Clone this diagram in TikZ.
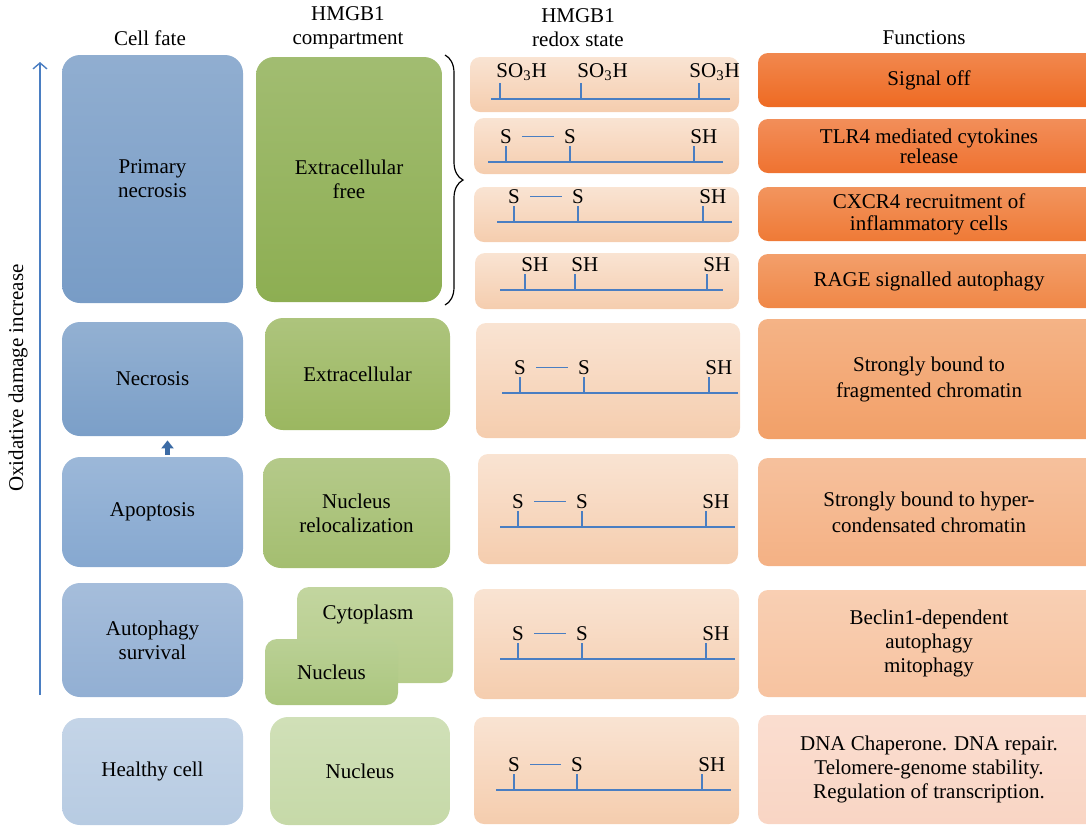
\documentclass[tikz,border=0pt]{standalone}
\usepackage{fontspec}
\setmainfont{Liberation Serif}
\usetikzlibrary{arrows.meta,decorations.pathreplacing,positioning}

\definecolor{chainblue}{HTML}{4A7EC2}
\definecolor{arrowblue}{HTML}{3C6BA5}
\definecolor{peach}{HTML}{F5CDAE}
\definecolor{fateA}{HTML}{789CC6}
\definecolor{fateB}{HTML}{7B9FC8}
\definecolor{fateC}{HTML}{86A8D0}
\definecolor{fateD}{HTML}{92AFD3}
\definecolor{fateE}{HTML}{B7CBE2}
\definecolor{compA}{HTML}{8DAE52}
\definecolor{compB}{HTML}{9BB760}
\definecolor{compC}{HTML}{A4BE70}
\definecolor{compD}{HTML}{B5CC8A}
\definecolor{compE}{HTML}{ABC67E}
\definecolor{compF}{HTML}{C6D9A8}
\definecolor{funcA}{HTML}{EE6A22}
\definecolor{funcB}{HTML}{EF7230}
\definecolor{funcC}{HTML}{EF7A36}
\definecolor{funcD}{HTML}{F08746}
\definecolor{funcE}{HTML}{F2A068}
\definecolor{funcF}{HTML}{F4B184}
\definecolor{funcG}{HTML}{F7C3A0}
\definecolor{funcH}{HTML}{F9D5C4}

\tikzset{
  txt/.style={font=\fontsize{10.5}{12}\selectfont, align=center, inner sep=1pt},
  fate/.style={txt, rounded corners=9pt, top color=#1!82!white, bottom color=#1, minimum width=90.5pt},
  comp/.style={txt, rounded corners=9pt, top color=#1!82!white, bottom color=#1},
  redox/.style={rounded corners=5pt, top color=peach!55!white, bottom color=peach, minimum width=132.5pt},
  func/.style={txt, rounded corners=5pt, top color=#1!80!white, bottom color=#1, minimum width=171pt},
  chain/.style={draw=chainblue, line width=0.85pt},
  site/.style={txt, anchor=south},
}

\begin{document}
\begin{tikzpicture}[x=0.5pt, y=-0.5pt]
\useasboundingbox (0,0) rectangle (1086,827);
\clip (0,0) rectangle (1086,827);

% column heads
\node[txt] (hfate) at (150,38) {Cell fate};
\node[txt] (hcomp) at (348,28) {HMGB1\\compartment};
\node[txt] (hredox) at (578,28) {HMGB1\\redox state};
\node[txt] (hfunc) at (924,38) {Functions};

% damage axis
\coordinate (axlo) at (40,695);
\coordinate (axhi) at (40,62);
\draw[chainblue, line width=0.7pt, -{Straight Barb[length=3pt,width=7pt]}] (axlo) -- (axhi);
\node[txt, rotate=90] (axlab) at (18,378) {Oxidative damage increase};

% cell fate
\node[fate=fateA, minimum height=124pt] (pnec) at (152.5,179) {Primary\\necrosis};
\node[fate=fateB, minimum height=57pt] (necr) at (152.5,379) {Necrosis};
\node[fate=fateC, minimum height=55pt] (apop) at (152.5,512) {Apoptosis};
\node[fate=fateD, minimum height=57pt] (auto) at (152.5,640) {Autophagy\\survival};
\node[fate=fateE, minimum height=53.5pt] (heal) at (152.5,771.5) {Healthy cell};
\draw[arrowblue, line width=2.5pt, -{Triangle[length=4pt,width=6pt]}, shorten <=1pt, shorten >=2pt]
  ([xshift=7.5pt]apop.north) -- ([xshift=7.5pt]necr.south);

% compartment
\node[comp=compA, minimum width=93pt, minimum height=122.5pt] (exfree) at (349,179.5) {Extracellular\\free};
\node[comp=compB, minimum width=92.5pt, minimum height=56pt] (extra) at (357.5,374) {Extracellular};
\node[comp=compC, minimum width=93.5pt, minimum height=55pt] (reloc) at (356.5,513) {Nucleus\\relocalization};
\node[comp=compD, rounded corners=6pt, minimum width=78pt, minimum height=48pt] (cyto) at (375,635) {};
\node[txt] (cytotxt) at (368,614) {Cytoplasm};
\node[comp=compE, rounded corners=6pt, minimum width=66.5pt, minimum height=33pt] (nucs) at (331.5,672) {Nucleus};
\node[comp=compF, minimum width=90pt, minimum height=54pt] (nuch) at (360,771) {Nucleus};

\draw[decorate, decoration={brace, amplitude=9pt}, line width=0.6pt] (445,55) -- (445,305);

% redox state
\node[redox, minimum width=134.5pt, minimum height=27.5pt] (rA) at (604.5,84.5) {};
\node[redox, minimum height=28pt] (rB) at (606.5,146) {};
\node[redox, minimum height=27.5pt] (rC) at (606.5,214.5) {};
\node[redox, minimum width=132pt, minimum height=28pt] (rD) at (607,281) {};
\node[redox, minimum width=132pt, minimum height=57.5pt] (rE) at (608,380.5) {};
\node[redox, minimum width=130pt, minimum height=55pt] (rF) at (608,509) {};
\node[redox, minimum height=55pt] (rG) at (606.5,644) {};
\node[redox, minimum height=53.5pt] (rH) at (606.5,770.5) {};

\draw[chain] (491,99) -- (730,99);
\foreach \t/\n/\s in {500/a/-3,581/b/-3,699/c/-6}{
  \draw[chain] (\t,99) -- (\t,83);
  \node[site, anchor=south west, xshift=\s pt] (so\n) at (\t,83) {SO\textsubscript{3}H};
}
\draw[chain] (500,290) -- (723,290);
\foreach \t/\n in {525/a,575/b,707/c}{
  \draw[chain] (\t,290) -- (\t,274);
  \node[site, anchor=south west, xshift=-3pt] (sh\n) at (\t,274) {SH};
}
\foreach \n/\by/\xa/\xb/\ta/\tb/\tc in {2/162/488/723/506/570/694, 3/222/497/732/514/578/703,
    5/393/502/738/520/584/709, 6/527/500/735/518/582/706,
    7/659/500/735/518/582/706, 8/790/496/731/514/577/702}{
  \draw[chain] (\xa,\by) -- (\xb,\by);
  \foreach \t in {\ta,\tb,\tc} \draw[chain] (\t,\by) -- (\t,\by-16);
  \node[site] (sa\n) at (\ta,\by-16) {S};
  \node[site] (sb\n) at (\tb,\by-16) {S};
  \node[site, anchor=south west, xshift=-3pt] (sc\n) at (\tc,\by-16) {SH};
  \draw[chain, shorten <=4pt, shorten >=4pt] (sa\n) -- (sb\n);
}

% functions
\node[func=funcA, minimum height=27pt] (fA) at (929,80) {Signal off};
\node[func=funcB, minimum height=27pt, font=\fontsize{10.5}{10}\selectfont] (fB) at (929,146) {TLR4 mediated cytokines\\release};
\node[func=funcC, minimum height=27pt, font=\fontsize{10.5}{11}\selectfont] (fC) at (929,214) {CXCR4 recruitment of\\inflammatory cells};
\node[func=funcD, minimum height=27pt] (fD) at (929,281) {RAGE signalled autophagy};
\node[func=funcE, minimum height=60pt, font=\fontsize{10.5}{13}\selectfont] (fE) at (929,379) {Strongly bound to\\fragmented chromatin};
\node[func=funcF, minimum height=54pt, font=\fontsize{10.5}{13}\selectfont] (fF) at (929,512) {Strongly bound to hyper-\\condensated chromatin};
\node[func=funcG, minimum height=53.5pt] (fG) at (929,643.5) {Beclin1-dependent\\autophagy\\mitophagy};
\node[func=funcH, minimum height=54.5pt] (fH) at (929,769.5) {DNA Chaperone. DNA repair.\\Telomere-genome stability.\\Regulation of transcription.};
\end{tikzpicture}
\end{document}
